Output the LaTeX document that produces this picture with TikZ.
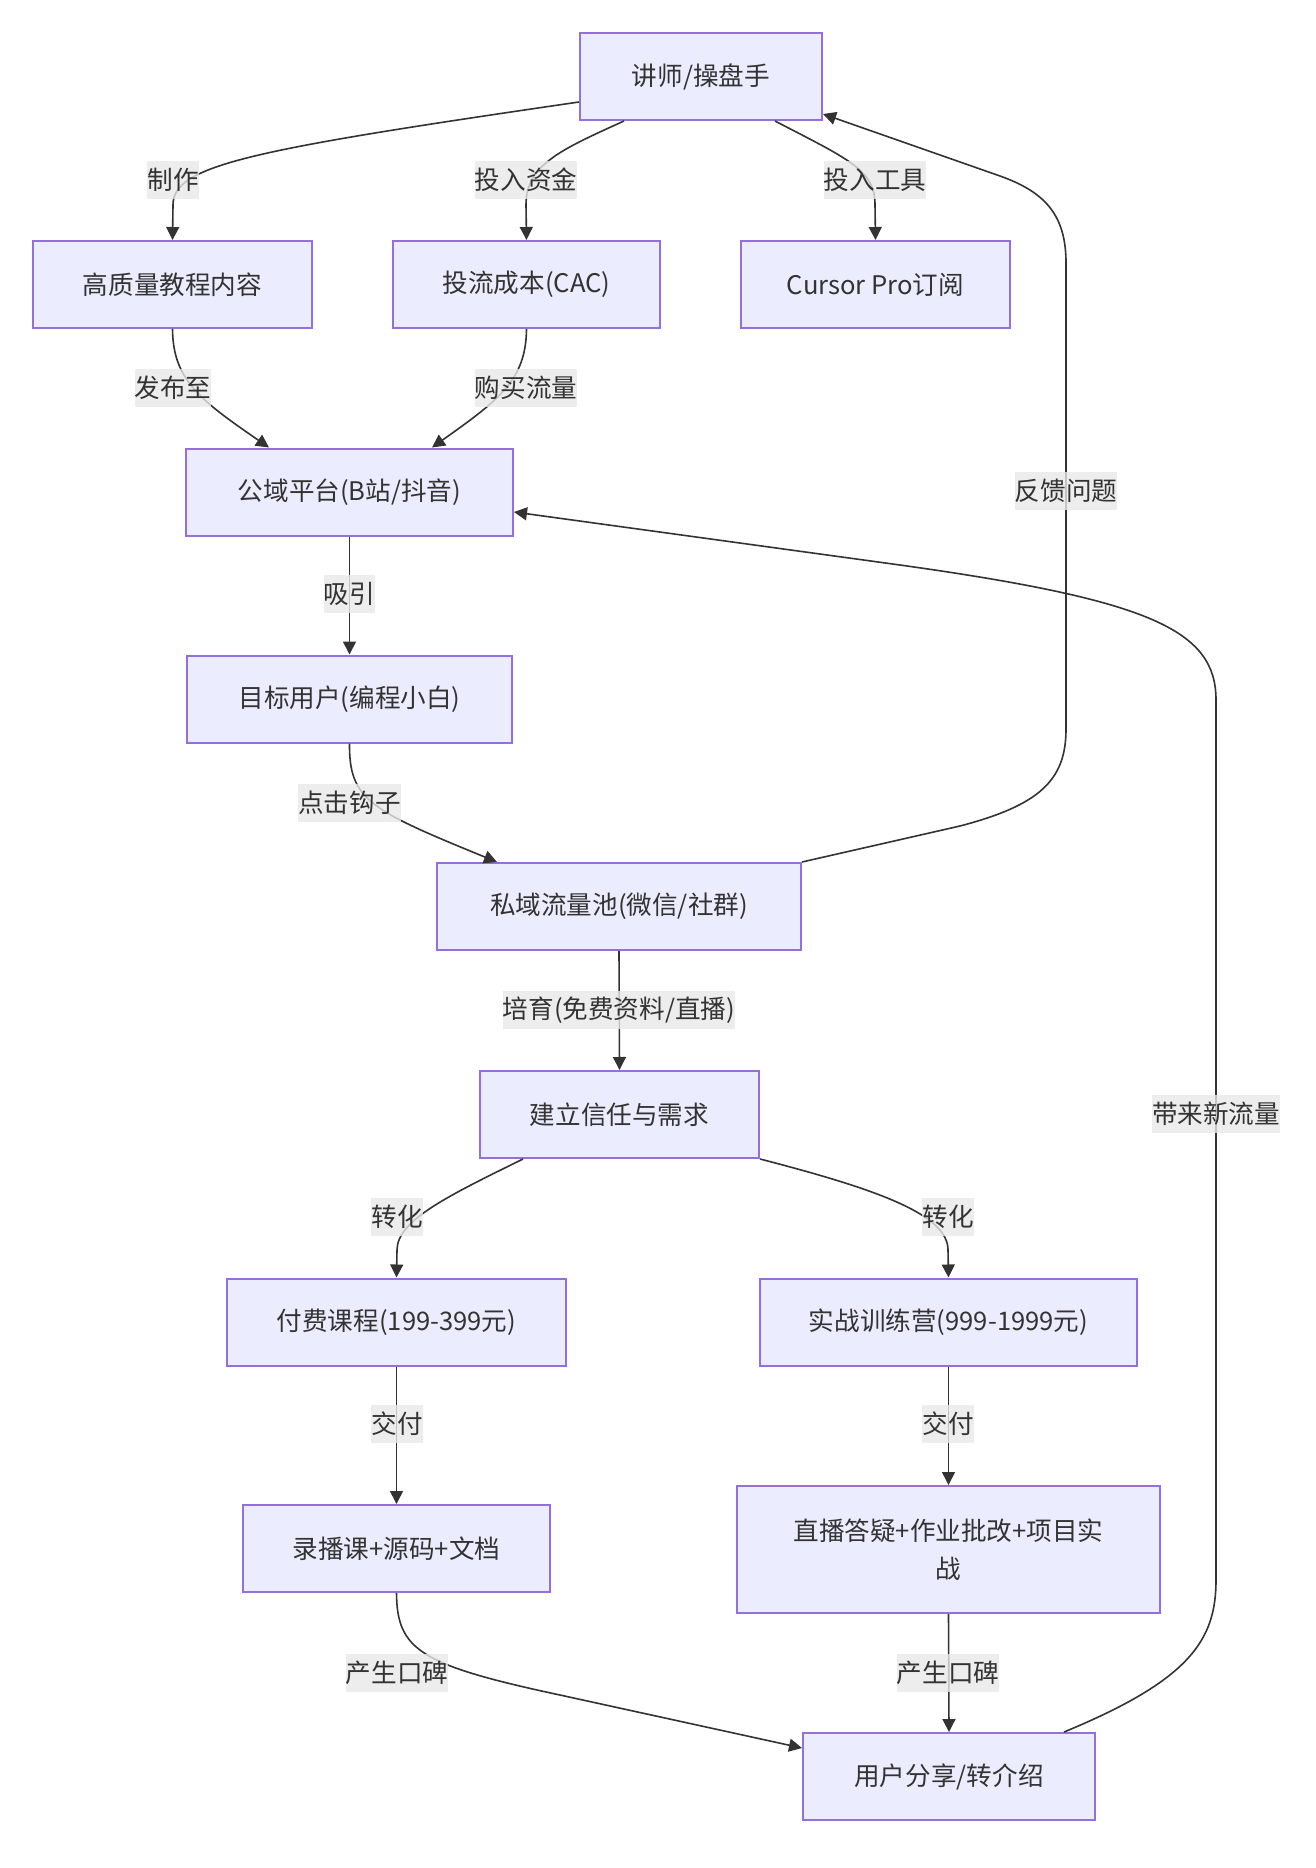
\documentclass[tikz,border=0pt]{standalone}
\usepackage{fontspec}
\setmainfont{Noto Sans CJK SC}
\usetikzlibrary{arrows.meta,calc}
\definecolor{nodefill}{HTML}{ECECFF}
\definecolor{nodeborder}{HTML}{9370DB}
\definecolor{linec}{HTML}{333333}
\definecolor{textc}{HTML}{333333}
\definecolor{lblbg}{HTML}{E8E8E8}
\newcommand{\mainfnt}{\fontsize{25.6pt}{38.4pt}\selectfont}
\tikzset{
  box/.style={draw=nodeborder, fill=nodefill, line width=2pt, inner sep=0pt,
    minimum height=87pt, text=textc, font=\mainfnt, align=center},
  lbl/.style={fill=lblbg, fill opacity=0.8, text opacity=1, inner xsep=0pt,
    inner ysep=0pt, minimum height=38pt, text=textc, font=\mainfnt},
  edge/.style={draw=linec, line width=1.6pt, -{Triangle[length=13pt,width=13pt]}},
}
\begin{document}
\begin{tikzpicture}[x=1pt,y=-1pt]
\useasboundingbox (0,0) rectangle (1316,1868);
% nodes
\node[box, minimum width=242pt] (A) at (701,76.5) {讲师/操盘手};
\node[box, minimum width=279pt] (B) at (172.5,284.5) {高质量教程内容};
\node[box, minimum width=267pt] (C) at (526.5,284.5) {投流成本(CAC)};
\node[box, minimum width=269pt] (D) at (875.5,284.5) {Cursor Pro订阅};
\node[box, minimum width=327pt] (E) at (349.5,492) {公域平台(B站/抖音)};
\node[box, minimum width=325pt] (F) at (349.5,699) {目标用户(编程小白)};
\node[box, minimum width=364pt] (G) at (619,906.5) {私域流量池(微信/社群)};
\node[box, minimum width=279pt] (H) at (619.5,1114.5) {建立信任与需求};
\node[box, minimum width=339pt] (I) at (396.5,1322) {付费课程(199-399元)};
\node[box, minimum width=377pt] (J) at (948.5,1322) {实战训练营(999-1999元)};
\node[box, minimum width=307pt] (K) at (396.5,1548.5) {录播课+源码+文档};
\node[box, minimum width=423pt, minimum height=127pt] (L) at (948.5,1549.5) {直播答疑+作业批改+项目实\\战};
\node[box, minimum width=292pt] (M) at (949,1776.5) {用户分享/转介绍};
% edges
\draw[edge] ([yshift=19pt]A.south west) .. controls (250,150) and (173,165) .. (173,205) -- (B.north);
\draw[edge] ([xshift=45pt]A.south west) .. controls (560,150) and (526,165) .. (526,205) -- (C.north);
\draw[edge] ([xshift=-48pt]A.south east) .. controls (850,160) and (875,170) .. (875,205) -- (D.north);
\draw[edge] (B.south) .. controls (173,380) and (200,400) .. ([xshift=84pt]E.north west);
\draw[edge] (C.south) .. controls (526,380) and (499,400) .. ([xshift=-82pt]E.north east);
\draw[edge] (E.south) -- (F.north);
\draw[edge] (F.south) .. controls (349,800) and (370,810) .. ([xshift=61pt]G.north west);
\draw[edge] (G.north east) -- (960,826) .. controls (1040,805) and (1066,780) .. (1066,729)
   -- (1066,263) .. controls (1066,215) and (1045,192) .. (1000,176) -- ([yshift=7pt]A.south east);
\draw[edge] (G.south) -- (H.north);
\draw[edge] ([xshift=44pt]H.south west) .. controls (450,1195) and (397,1220) .. (397,1250) -- (I.north);
\draw[edge] (H.south east) .. controls (880,1190) and (948,1215) .. (948,1250) -- (J.north);
\draw[edge] (I.south) -- (K.north);
\draw[edge] (J.south) -- (L.north);
\draw[edge] (K.south) .. controls (397,1650) and (420,1665) .. (560,1695) -- ([yshift=-16pt]M.north west);
\draw[edge] (L.south) -- (M.north);
\draw[edge] ([xshift=-32pt]M.north east) .. controls (1190,1680) and (1216,1640) .. (1216,1580)
   -- (1216,700) .. controls (1216,630) and (1150,600) .. (900,565) -- ([yshift=-20pt]E.east);
% labels
\node[lbl] (l1) at (173,180) {制作};
\node[lbl] (l2) at (526,180) {投入资金};
\node[lbl] (l3) at (875,180) {投入工具};
\node[lbl] (l4) at (173,388) {发布至};
\node[lbl] (l5) at (526,388) {购买流量};
\node[lbl] (l6) at (349.5,594) {吸引};
\node[lbl] (l7) at (349.5,803) {点击钩子};
\node[lbl] (l8) at (1066,491) {反馈问题};
\node[lbl] (l9) at (619,1010) {培育(免费资料/直播)};
\node[lbl] (l10) at (1216,1114) {带来新流量};
\node[lbl] (l11) at (397,1217) {转化};
\node[lbl] (l12) at (948,1217) {转化};
\node[lbl] (l13) at (397,1424) {交付};
\node[lbl] (l14) at (948,1424) {交付};
\node[lbl] (l15) at (397,1673) {产生口碑};
\node[lbl] (l16) at (948,1673) {产生口碑};
\end{tikzpicture}
\end{document}
